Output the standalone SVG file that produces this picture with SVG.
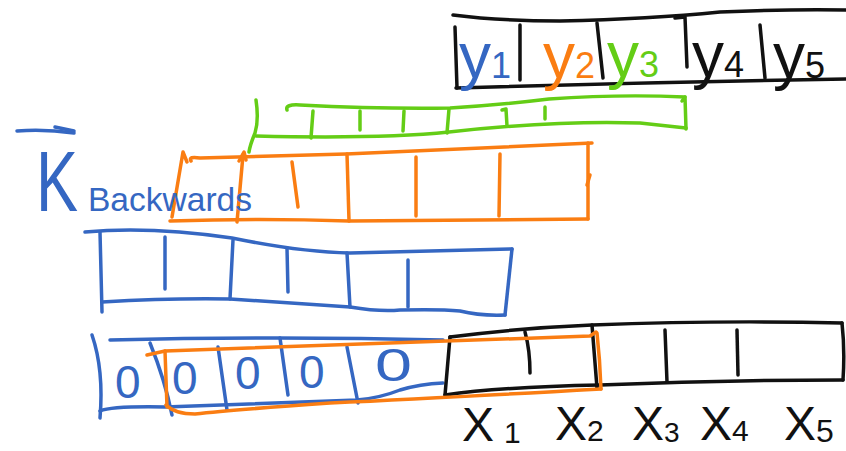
<svg xmlns="http://www.w3.org/2000/svg" width="846" height="451" viewBox="0 0 846 451">
<style>
.s{fill:none;stroke-width:3.5;stroke-linecap:round;stroke-linejoin:round}
.k{stroke:#111}
.b{stroke:#3567c2}
.o{stroke:#fa7d12}
.g{stroke:#64cd16}
.t{font-family:"Liberation Sans","DejaVu Sans",sans-serif}
.yl{font-size:64px}
.sub{font-size:36px}
.xl{font-size:48px;fill:#111}
.z{font-size:46px;fill:#3567c2}
</style>
<rect width="846" height="451" fill="#fff"/>

<g id="y-array">
<path class="s k" d="M453,15 Q500,21 560,21 Q650,19 720,12 Q790,9 846,10"/>
<path class="s k" d="M455,27 L457,88"/>
<path class="s k" d="M456,88 Q650,82 846,79"/>
<path class="s k" d="M520,25 L520,80"/>
<path class="s k" d="M597,23 L603,78"/>
<path class="s k" d="M675,18 L685,17 L687,67"/>
<path class="s k" d="M760,25 L765,78"/>
<text class="t yl" x="459" y="78" fill="#3567c2">y<tspan class="sub">1</tspan></text>
<text class="t yl" x="543" y="78" fill="#fa7d12">y<tspan class="sub">2</tspan></text>
<text class="t yl" x="607" y="77" fill="#64cd16">y<tspan class="sub">3</tspan></text>
<text class="t yl" x="692" y="77" fill="#111">y<tspan class="sub">4</tspan></text>
<text class="t yl" x="773" y="78" fill="#111">y<tspan class="sub">5</tspan></text>
</g>

<g id="green-window">
<path class="s g" d="M287,110 Q285,104 300,105 Q380,109 450,108 Q500,105 549,99 Q620,94 685,97"/>
<path class="s g" d="M682,101 L685,97 L686,129"/>
<path class="s g" d="M256,136 Q380,139 449,132 Q560,120 640,123 L686,128"/>
<path class="s g" d="M256,100 Q259,120 255,133 Q250,145 249,152"/>
<path class="s g" d="M313,111 L311,138"/>
<path class="s g" d="M360,111 L360,130"/>
<path class="s g" d="M404,111 L403,131"/>
<path class="s g" d="M449,109 L447,133"/>
<path class="s g" d="M502,110 L506,109 L507,126"/>
<path class="s g" d="M545,107 L545,119"/>
</g>

<g id="orange-window">
<path class="s o" d="M172,217 L183,152 L187,162"/>
<path class="s o" d="M191,161 Q188,156 200,158 Q280,156 346,154 Q470,148 592,143"/>
<path class="s o" d="M588,143 L588,219"/>
<path class="s o" d="M590,175 L587,185"/>
<path class="s o" d="M170,221 Q260,218 349,221 Q470,220 588,219"/>
<path class="s o" d="M239,161 L244,152 L246,160"/>
<path class="s o" d="M243,155 L237,222"/>
<path class="s o" d="M292,162 L298,207"/>
<path class="s o" d="M347,154 L349,221"/>
<path class="s o" d="M416,157 L416,216"/>
<path class="s o" d="M500,154 L499,216"/>
</g>

<g id="k-label">
<path class="s b" d="M17,131 Q45,129 74,133"/>
<path class="s b" d="M55,127 L74,131"/>
<text class="t" x="36" y="211" font-size="86" fill="#3567c2" textLength="42" lengthAdjust="spacingAndGlyphs">K</text>
<text class="t" x="88" y="211" font-size="33" fill="#3567c2" textLength="164" lengthAdjust="spacingAndGlyphs">Backwards</text>
</g>

<g id="blue-array">
<path class="s b" d="M85,232 Q150,226 232,238 Q300,252 350,253 L512,249"/>
<path class="s b" d="M100,232 L102,312"/>
<path class="s b" d="M102,302 Q170,298 230,299 L350,307 Q380,312 400,310 Q440,309 460,311 Q480,316 505,315"/>
<path class="s b" d="M512,249 L505,315"/>
<path class="s b" d="M165,237 L165,289"/>
<path class="s b" d="M233,240 L230,299"/>
<path class="s b" d="M287,248 L288,292"/>
<path class="s b" d="M347,253 L350,307"/>
<path class="s b" d="M408,260 L408,307"/>
</g>

<g id="padded-input">
<path class="s b" d="M110,340 Q280,336 443,340"/>
<path class="s b" d="M92,335 Q104,370 100,418"/>
<path class="s b" d="M100,411 Q112,406 165,407 L357,400 Q380,398 400,390 Q420,384 443,383"/>
<path class="s b" d="M150,343 Q165,380 172,415"/>
<path class="s b" d="M218,347 L227,410"/>
<path class="s b" d="M280,338 L288,395"/>
<path class="s b" d="M347,347 L358,403"/>
<text class="t z" x="115" y="398">0</text>
<text class="t z" x="172" y="394">0</text>
<text class="t z" x="235" y="389">0</text>
<text class="t z" x="299" y="388">0</text>
<text class="t z" x="375" y="381" font-size="40" textLength="37" lengthAdjust="spacingAndGlyphs">0</text>
</g>

<g id="input-array">
<path class="s k" d="M450,337 Q520,328 592,325 Q720,320 842,323"/>
<path class="s k" d="M450,337 L445,395"/>
<path class="s k" d="M445,395 Q500,387 600,385 Q720,380 843,380"/>
<path class="s k" d="M842,323 Q845,350 843,380"/>
<path class="s k" d="M525,332 Q530,350 530,373"/>
<path class="s k" d="M592,325 L597,388"/>
<path class="s k" d="M665,330 L667,382"/>
<path class="s k" d="M737,330 L738,375"/>
<text class="t xl" x="462" y="441">X<tspan font-size="30" dx="10" dy="2">1</tspan></text>
<text class="t xl" x="555" y="440">X<tspan font-size="30" dy="1">2</tspan></text>
<text class="t xl" x="632" y="440">X<tspan font-size="28" dy="2">3</tspan></text>
<text class="t xl" x="700" y="440">X<tspan font-size="30" dy="1">4</tspan></text>
<text class="t xl" x="784" y="440">X<tspan font-size="32" dy="2">5</tspan></text>
</g>

<g id="orange-input-window">
<path class="s o" d="M147,355 L165,351 Q380,343 590,336 L596,332"/>
<path class="s o" d="M597,333 Q600,360 601,389"/>
<path class="s o" d="M601,389 Q440,398 330,403 Q230,410 195,414 Q175,414 166,405"/>
<path class="s o" d="M165,351 L167,407"/>
</g>
</svg>
